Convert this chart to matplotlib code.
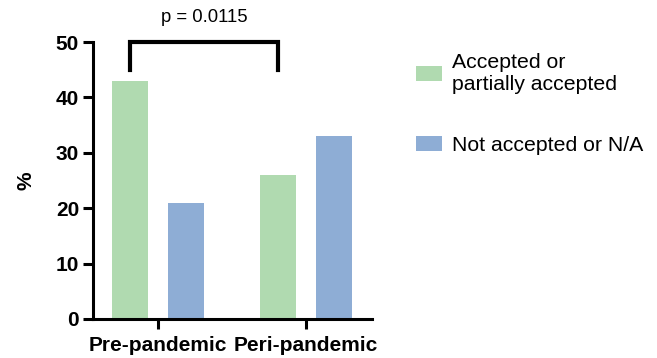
import matplotlib
matplotlib.use("Agg")
import matplotlib.pyplot as plt
import numpy as np

categories = ["Pre-pandemic", "Peri-pandemic"]
series_names = ["Accepted or\npartially accepted", "Not accepted or N/A"]
accepted = [43, 26]
not_accepted = [21, 33]
colors = ["#B0DAB0", "#8EADD5"]
p_text = "p = 0.0115"
yticks = [0, 10, 20, 30, 40, 50]

plt.rcParams['font.family'] = ['Liberation Sans', 'DejaVu Sans']

fig = plt.figure(figsize=(6.57, 3.58), dpi=100)
ax = fig.add_axes([93/657, 1-319/358, (372-93)/657, (319-42)/358])

x = np.arange(len(categories))
w = 0.245
off = 0.188
ax.bar(x - off, accepted, w, color=colors[0], label=series_names[0])
ax.bar(x + off, not_accepted, w, color=colors[1], label=series_names[1])

ax.set_xlim(-0.44, 1.446)
ax.set_ylim(0, 50)
ax.set_yticks(yticks)
ax.set_xticks(x)
ax.set_xticklabels(categories, fontsize=15, fontweight='bold')
ax.tick_params(axis='y', labelsize=15, width=2.2, length=7, pad=3)
ax.tick_params(axis='x', width=2.2, length=7, pad=5)
for lab in ax.get_yticklabels():
    lab.set_fontweight('bold')
for s in ['top', 'right']:
    ax.spines[s].set_visible(False)
for s in ['left', 'bottom']:
    ax.spines[s].set_linewidth(2.2)
ax.set_ylabel('%', fontsize=15, fontweight='bold')
ax.yaxis.set_label_coords(-(93 - 35) / 279, 0.5)

# significance bracket
xl = x[0] - off
xr = x[1] - off
ax.plot([xl, xl, xr, xr], [45, 50, 50, 45], color='black', lw=3, clip_on=False,
        solid_joinstyle='miter')
ax.text((xl + xr) / 2, 54.4, p_text, ha='center', va='center', fontsize=13.3)

leg = ax.legend(loc='upper left', bbox_to_anchor=(407/657, 1-44/358),
                bbox_transform=fig.transFigure, frameon=False, fontsize=15.3,
                handlelength=1.25, handleheight=0.7, handletextpad=0.45,
                labelspacing=1.98, borderaxespad=0)

fig.savefig("out.png", dpi=100)
